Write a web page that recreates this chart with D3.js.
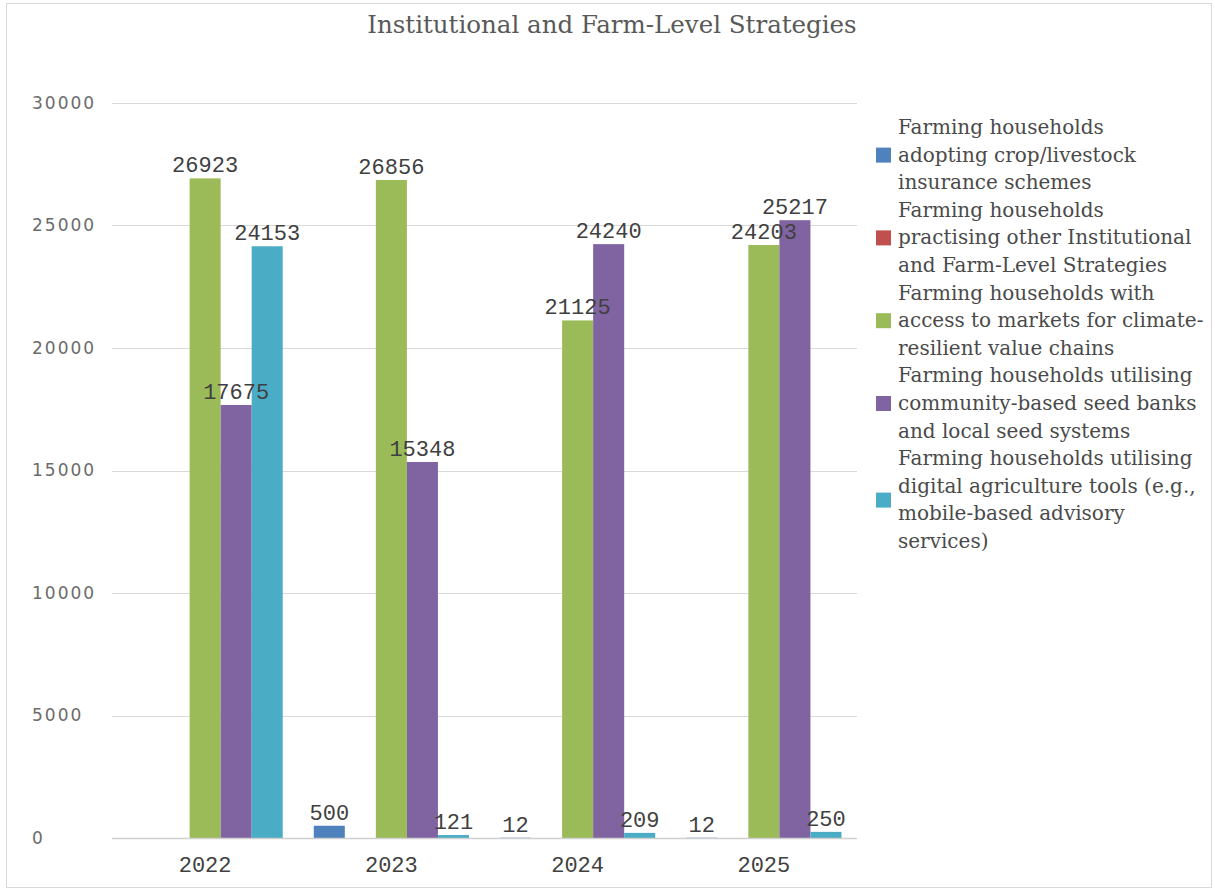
<!DOCTYPE html>
<html>
<head>
<meta charset="utf-8">
<script src="https://cdn.jsdelivr.net/npm/d3@7"></script>
<style>
  html, body { margin: 0; padding: 0; background: #fff; }
  svg { display: block; }
</style>
</head>
<body>
<svg id="chart" width="1215" height="892"></svg>
<script>
// Years on the category axis
const years = ["2022", "2023", "2024", "2025"];

// Series values per year (null = no value reported)
const insuranceSchemes = [null, 500, 12, 12];
const otherStrategies = [null, null, null, null];
const marketAccess = [26923, 26856, 21125, 24203];
const seedBanks = [17675, 15348, 24240, 25217];
const digitalTools = [24153, 121, 209, 250];

// Legend entries, pre-wrapped into lines
const legendLines = [
  ["Farming households", "adopting crop/livestock", "insurance schemes"],
  ["Farming households", "practising other Institutional", "and Farm-Level Strategies"],
  ["Farming households with", "access to markets for climate-", "resilient value chains"],
  ["Farming households utilising", "community-based seed banks", "and local seed systems"],
  ["Farming households utilising", "digital agriculture tools (e.g.,", "mobile-based advisory", "services)"]
];

const yTicks = [0, 5000, 10000, 15000, 20000, 25000, 30000];
const colors = ["#4f81bd", "#c0504d", "#9bbb59", "#8064a2", "#4bacc6"];

const series = [insuranceSchemes, otherStrategies, marketAccess, seedBanks, digitalTools];

const svg = d3.select("#chart");
const W = 1215, H = 892;

// outer frame
svg.append("rect")
  .attr("x", 6.5).attr("y", 3.5)
  .attr("width", W - 10).attr("height", H - 8)
  .attr("fill", "#fff").attr("stroke", "#d9d9d9").attr("stroke-width", 1);

// title
svg.append("text")
  .attr("x", 612).attr("y", 33)
  .attr("text-anchor", "middle")
  .attr("font-family", "DejaVu Serif")
  .attr("font-size", 24.5)
  .attr("fill", "#595959")
  .text("Institutional and Farm-Level Strategies");

const plot = { left: 112, right: 857, top: 103, bottom: 838 };

const y = d3.scaleLinear().domain([0, 30000]).range([plot.bottom, plot.top]);
const x0 = d3.scaleBand().domain(years).range([plot.left, plot.right])
  .paddingInner(1 / 6).paddingOuter(1 / 12);
const x1 = d3.scaleBand().domain(d3.range(series.length)).range([0, x0.bandwidth()]);

// gridlines
svg.append("g")
  .selectAll("line")
  .data(yTicks)
  .join("line")
  .attr("x1", plot.left).attr("x2", plot.right)
  .attr("y1", d => Math.round(y(d)) + 0.5).attr("y2", d => Math.round(y(d)) + 0.5)
  .attr("stroke", "#d9d9d9").attr("stroke-width", 1);

// y axis labels, left-aligned in a column
const yAxis = d3.axisLeft(y).tickValues(yTicks).tickSize(0).tickPadding(14).tickFormat(d3.format("d"));
const gy = svg.append("g").attr("transform", `translate(${plot.left},0)`).call(yAxis);
gy.select(".domain").remove();
gy.selectAll("text")
  .attr("font-family", "DejaVu Sans")
  .attr("font-size", 17)
  .attr("letter-spacing", 2)
  .attr("fill", "#6b6b6b")
  .attr("text-anchor", "start")
  .attr("x", 32 - plot.left);

// bars
const flat = [];
years.forEach((yr, i) => series.forEach((s, k) => {
  if (s[i] !== null) flat.push({ yr, k, v: s[i] });
}));

svg.append("g")
  .selectAll("rect")
  .data(flat)
  .join("rect")
  .attr("x", d => x0(d.yr) + x1(d.k))
  .attr("width", x1.bandwidth())
  .attr("y", d => y(d.v))
  .attr("height", d => plot.bottom - y(d.v))
  .attr("fill", d => colors[d.k]);

// baseline
svg.append("line")
  .attr("x1", plot.left).attr("x2", plot.right)
  .attr("y1", plot.bottom + 0.5).attr("y2", plot.bottom + 0.5)
  .attr("stroke", "#d0d0d0").attr("stroke-width", 1.5);

// data labels, drawn above all bars
svg.append("g")
  .selectAll("text")
  .data(flat)
  .join("text")
  .attr("x", d => x0(d.yr) + x1(d.k) + x1.bandwidth() / 2)
  .attr("y", d => y(d.v) - 6)
  .attr("text-anchor", "middle")
  .attr("font-family", "Liberation Mono")
  .attr("font-size", 22)
  .attr("fill", "#404040")
  .text(d => d.v);

// x axis labels
const xAxis = d3.axisBottom(x0).tickSize(0).tickPadding(18);
const gx = svg.append("g").attr("transform", `translate(0,${plot.bottom})`).call(xAxis);
gx.select(".domain").remove();
gx.selectAll("text")
  .attr("font-family", "Liberation Mono")
  .attr("font-size", 22)
  .attr("fill", "#404040");

// legend
const lineH = 27.6;
let ly = 134;
const legend = svg.append("g");
legendLines.forEach((lines, i) => {
  const g = legend.append("g");
  const mid = ly + (lines.length - 1) * lineH / 2;
  g.append("rect")
    .attr("x", 876).attr("y", mid - 14)
    .attr("width", 15).attr("height", 15)
    .attr("fill", colors[i]);
  g.selectAll("text")
    .data(lines)
    .join("text")
    .attr("x", 898)
    .attr("y", (d, j) => ly + j * lineH)
    .attr("font-family", "DejaVu Serif")
    .attr("font-size", 20)
    .attr("fill", "#4a4a4a")
    .text(d => d);
  ly += lines.length * lineH;
});
</script>
</body>
</html>
